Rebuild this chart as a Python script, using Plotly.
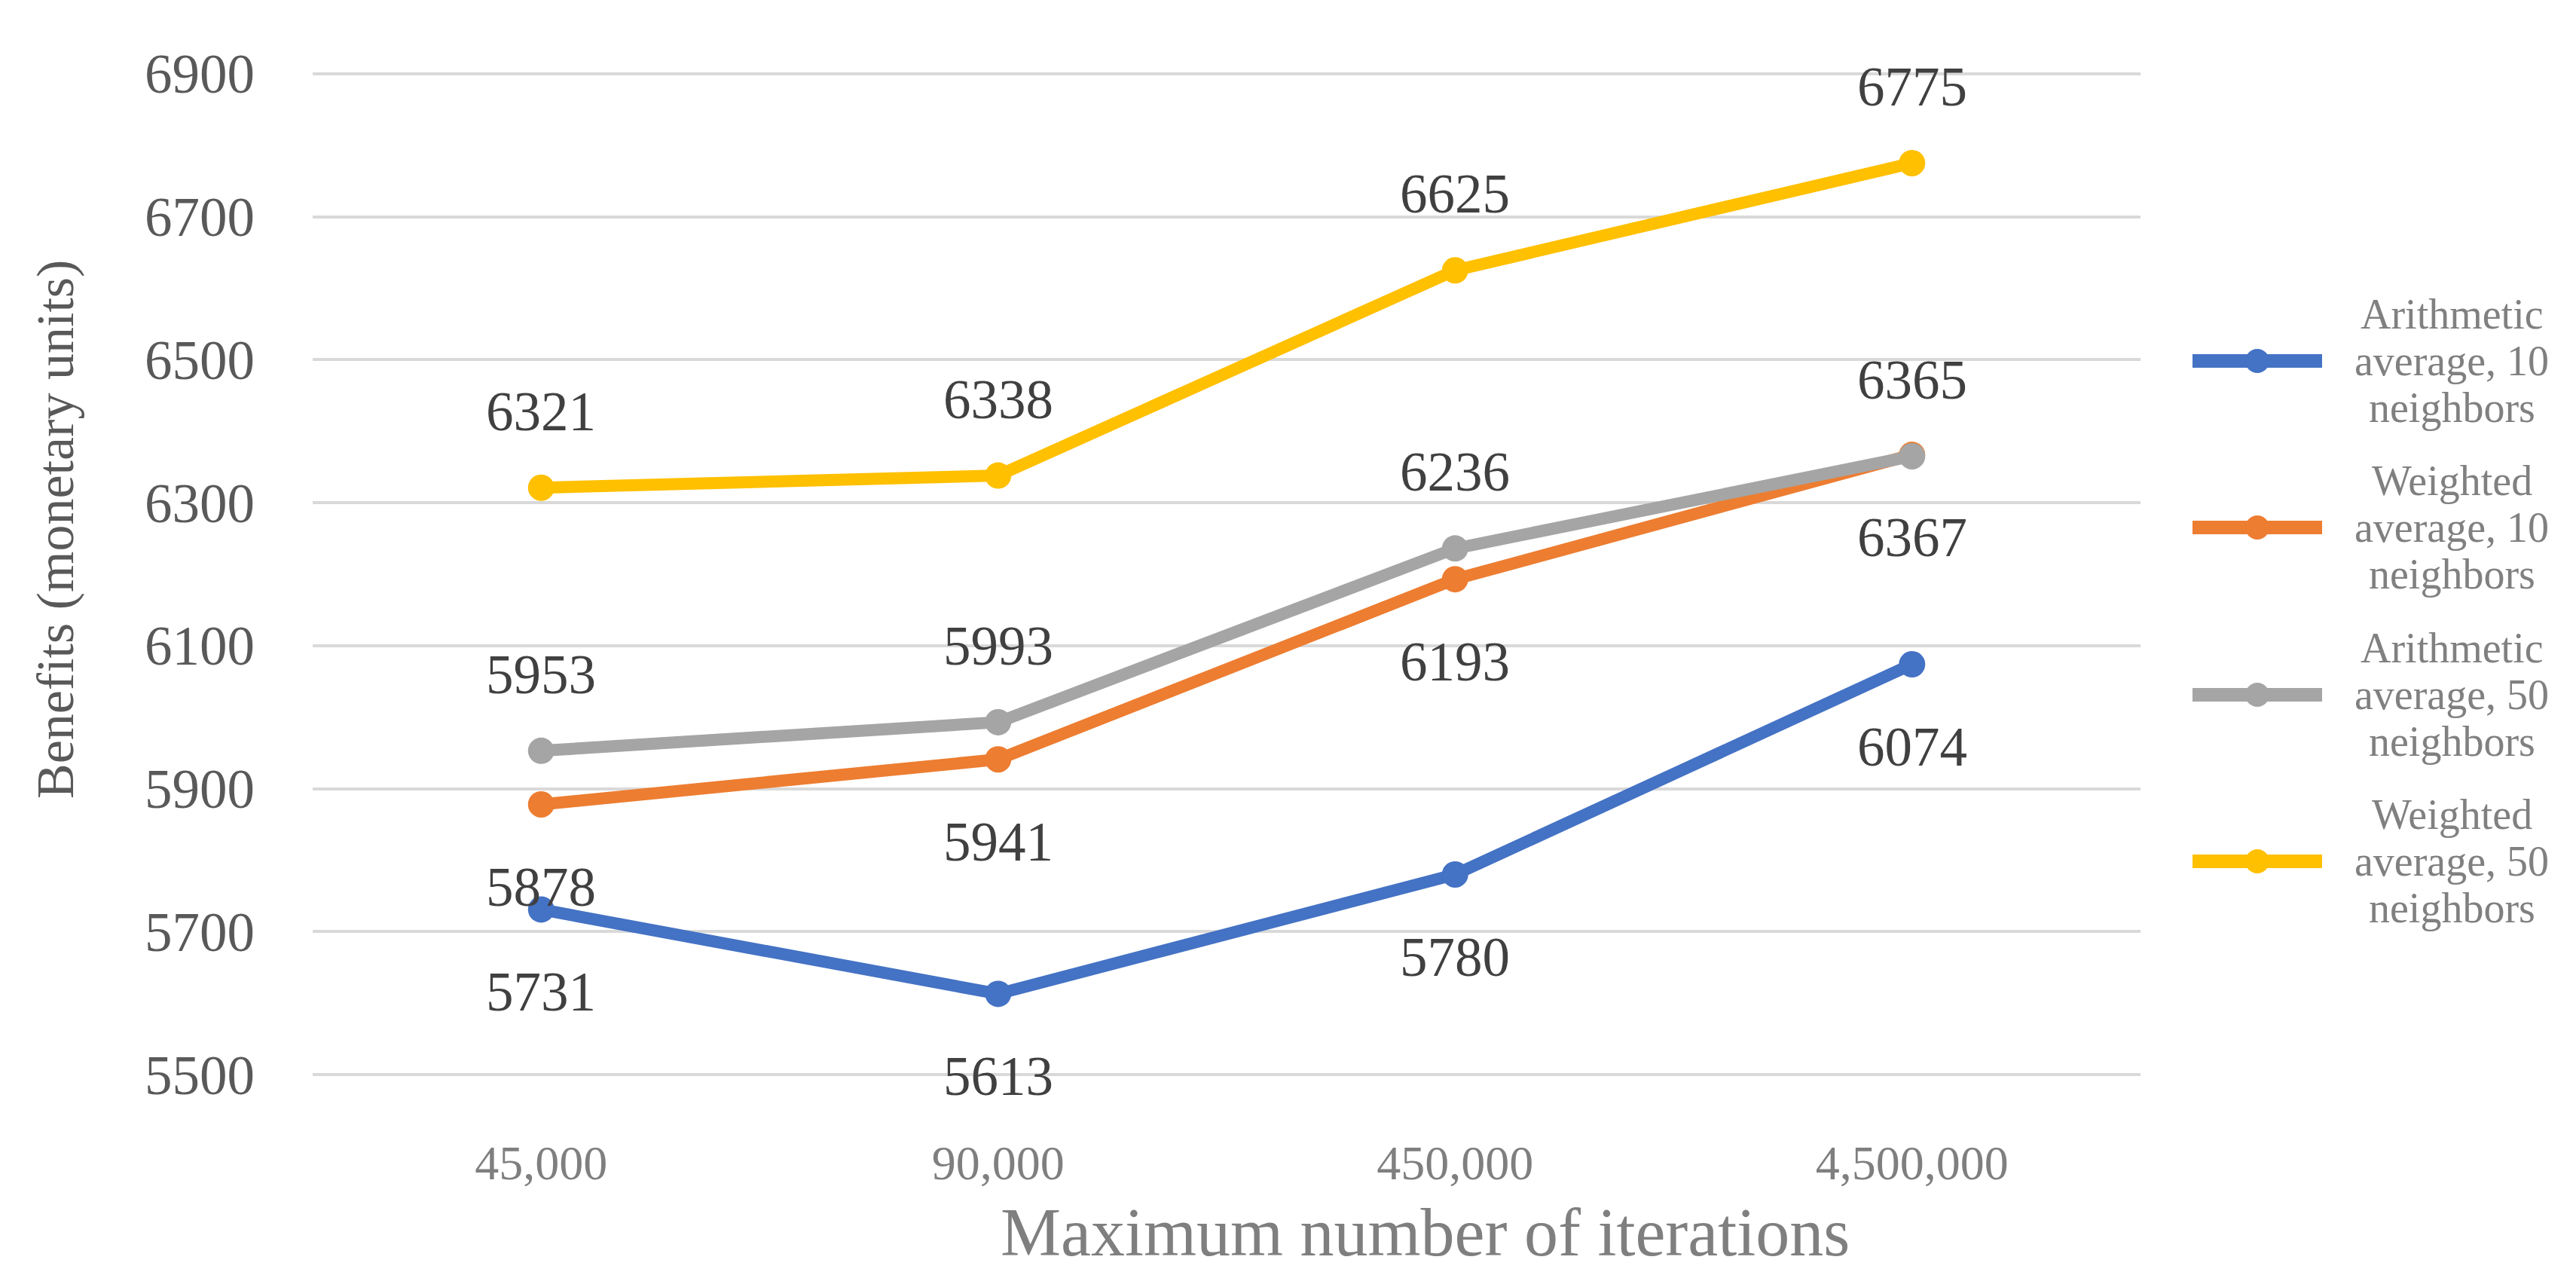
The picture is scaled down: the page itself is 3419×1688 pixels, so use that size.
import plotly.graph_objects as go

# ---------------- data ----------------
categories = ["45,000", "90,000", "450,000", "4,500,000"]

series_names = [
    "Arithmetic average, 10 neighbors",
    "Weighted average, 10 neighbors",
    "Arithmetic average, 50 neighbors",
    "Weighted average, 50 neighbors",
]
arith_10 = [5731, 5613, 5780, 6074]
weighted_10 = [5878, 5941, 6193, 6367]
arith_50 = [5953, 5993, 6236, 6365]
weighted_50 = [6321, 6338, 6625, 6775]
series_values = [arith_10, weighted_10, arith_50, weighted_50]

y_ticks = [5500, 5700, 5900, 6100, 6300, 6500, 6700, 6900]
y_title = "Benefits (monetary units)"
x_title = "Maximum number of iterations"

# ---------------- style ----------------
colors = ["#4472C4", "#ED7D31", "#A5A5A5", "#FFC000"]
label_side = ["below", "below", "above", "above"]
FONT = "Liberation Serif"
W, H = 3419, 1688
ML, MR, MT, MB = 407, W - 2833, 88, H - 1420
PW, PH = W - ML - MR, H - MT - MB


def px_x(px):
    return (px - ML) / PW


def px_y(py):
    return (H - MB - py) / PH


fig = go.Figure()

for name, vals, col in zip(series_names, series_values, colors):
    fig.add_trace(go.Scatter(
        x=categories, y=vals, name=name, mode="lines+markers",
        line=dict(color=col, width=16),
        marker=dict(color=col, size=35),
        showlegend=False, hoverinfo="skip",
    ))

annotations = []
# data labels
for vals, side in zip(series_values, label_side):
    for c, v in zip(categories, vals):
        annotations.append(dict(
            x=c, y=v, xref="x", yref="y", text=str(v), showarrow=False,
            yshift=101 if side == "above" else -110,
            font=dict(family=FONT, size=73, color="#404040"),
            xanchor="center", yanchor="middle",
        ))

# axis titles
annotations.append(dict(
    x=px_x(1883), y=px_y(1627), xref="paper", yref="paper", text=x_title,
    showarrow=False, xanchor="center", yanchor="middle",
    font=dict(family=FONT, size=90, color="#7F7F7F"),
))
annotations.append(dict(
    x=px_x(65), y=px_y(695), xref="paper", yref="paper", text=y_title,
    showarrow=False, xanchor="center", yanchor="middle", textangle=-90,
    font=dict(family=FONT, size=70, color="#595959"),
))

# custom legend
shapes = []
legend_centers = [471, 692, 914, 1135]
for name, col, cy in zip(series_names, colors, legend_centers):
    shapes.append(dict(
        type="line", xref="paper", yref="paper",
        x0=px_x(2902), x1=px_x(3074), y0=px_y(cy), y1=px_y(cy),
        line=dict(color=col, width=18),
    ))
    shapes.append(dict(
        type="circle", xref="paper", yref="paper",
        xsizemode="pixel", ysizemode="pixel",
        xanchor=px_x(2988), yanchor=px_y(cy),
        x0=-16, x1=16, y0=-16, y1=16,
        fillcolor=col, line=dict(width=0),
    ))
    words = name.split()
    lines = [words[0], " ".join(words[1:3]), " ".join(words[3:])]
    for k, ln in enumerate(lines):
        annotations.append(dict(
            x=px_x(3246), y=px_y(cy + (k - 1) * 62), xref="paper", yref="paper",
            text=ln, showarrow=False, xanchor="center", yanchor="middle",
            font=dict(family=FONT, size=56, color="#808080"),
        ))

fig.update_layout(
    width=W, height=H,
    margin=dict(l=ML, r=MR, t=MT, b=MB, autoexpand=False),
    paper_bgcolor="white", plot_bgcolor="white",
    showlegend=False,
    annotations=annotations,
    shapes=shapes,
    xaxis=dict(
        type="category", range=[-0.5, len(categories) - 0.5],
        showgrid=False, showline=False, zeroline=False, ticks="",
        tickfont=dict(family=FONT, size=64, color="#7F7F7F"),
        ticklabelstandoff=72,
    ),
    yaxis=dict(
        range=[5498, 6902], tickvals=y_ticks,
        showgrid=True, gridcolor="#D9D9D9", gridwidth=4,
        showline=False, zeroline=False, ticks="",
        tickfont=dict(family=FONT, size=73, color="#595959"),
        ticklabelstandoff=76,
    ),
)

fig.write_html("out.html")
